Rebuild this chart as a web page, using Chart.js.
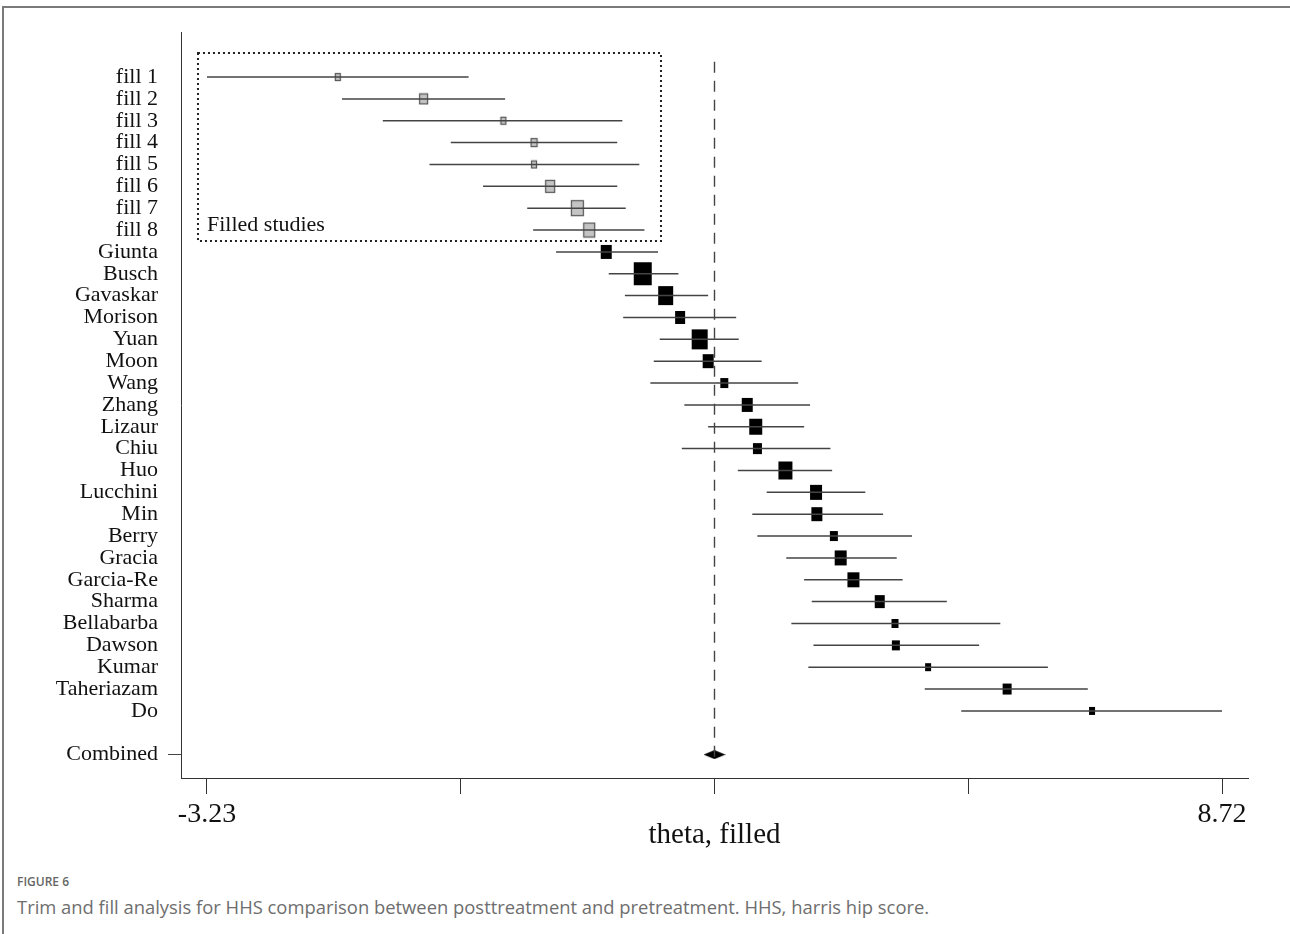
<!DOCTYPE html>
<html>
<head>
<meta charset="utf-8">
<script src="https://cdn.jsdelivr.net/npm/chart.js@4"></script>
<style>
  body { margin: 0; background: #fff; width: 1290px; height: 934px; position: relative; overflow: hidden; }
  #frameTop { position: absolute; left: 3px; top: 6px; width: 1287px; height: 2px; background: #7a7a7a; }
  #frameLeft { position: absolute; left: 2px; top: 6px; width: 2px; height: 928px; background: #7a7a7a; }
  #chartBox { position: absolute; left: 0; top: 0; }
  .figNo { position: absolute; left: 17px; top: 873px; font-family: "Open Sans", sans-serif; font-weight: 600; font-size: 12px; color: #666; }
  .caption { position: absolute; left: 17px; top: 894px; font-family: "Open Sans", sans-serif; font-size: 18.4px; color: #6e6e6e; }
</style>
</head>
<body>
<div id="chartBox"><canvas id="forest" width="1290" height="860"></canvas></div>
<div id="frameTop"></div>
<div id="frameLeft"></div>
<div class="figNo">FIGURE 6</div>
<div class="caption">Trim and fill analysis for HHS comparison between posttreatment and pretreatment. HHS, harris hip score.</div>

<script>
"use strict";

// imputed (filled) studies
const fillLabels = ["fill 1", "fill 2", "fill 3", "fill 4", "fill 5", "fill 6", "fill 7", "fill 8"];
const fillEst = [-1.69, -0.68, 0.26, 0.62, 0.62, 0.81, 1.13, 1.27];
const fillLo = [-3.23, -1.64, -1.16, -0.36, -0.61, 0.02, 0.54, 0.61];
const fillHi = [-0.15, 0.28, 1.66, 1.60, 1.86, 1.60, 1.70, 1.92];
const fillWeight = [2.3, 5.1, 2.3, 3.1, 2.3, 6.3, 10.6, 9.0];

// observed studies
const studyLabels = ["Giunta", "Busch", "Gavaskar", "Morison", "Yuan", "Moon", "Wang", "Zhang", "Lizaur", "Chiu", "Huo",
  "Lucchini", "Min", "Berry", "Gracia", "Garcia-Re", "Sharma", "Bellabarba", "Dawson", "Kumar", "Taheriazam", "Do"];
const studyEst = [1.47, 1.90, 2.17, 2.34, 2.57, 2.67, 2.86, 3.13, 3.23, 3.25, 3.58,
  3.94, 3.95, 4.15, 4.23, 4.38, 4.69, 4.87, 4.88, 5.26, 6.19, 7.19];
const studyLo = [0.88, 1.50, 1.69, 1.67, 2.10, 2.03, 1.99, 2.39, 2.67, 2.36, 3.02,
  3.36, 3.19, 3.25, 3.59, 3.80, 3.89, 3.65, 3.91, 3.85, 5.22, 5.65];
const studyHi = [2.08, 2.32, 2.67, 3.00, 3.03, 3.30, 3.73, 3.87, 3.80, 4.11, 4.13,
  4.52, 4.73, 5.07, 4.89, 4.96, 5.48, 6.11, 5.86, 6.67, 7.14, 8.72];
const studyWeight = [7.6, 20.3, 14.1, 6.3, 16.0, 7.6, 4.0, 7.6, 10.6, 5.1, 12.3,
  9.0, 7.6, 4.0, 9.0, 9.0, 6.3, 3.1, 4.0, 2.3, 5.1, 2.3];

// pooled estimate
const combinedLabel = "Combined";
const combinedEst = 2.745;
const combinedLo = 2.615;
const combinedHi = 2.875;

// x axis
const xMin = -3.23;
const xMax = 8.72;
const xTitle = "theta, filled";

const rowLabels = fillLabels.concat(studyLabels);
const combinedRow = rowLabels.length + 1;

const serif = "'Liberation Serif', 'Times New Roman', serif";

// box marker drawn on a small canvas, size from the weight
function boxMarker(weight, fill, stroke) {
	const w = Math.round(4 * Math.sqrt(weight));
	const h = Math.round(w * 1.25);
	const c = document.createElement("canvas");
	c.width = w + 2;
	c.height = h + 2;
	const g = c.getContext("2d");
	g.fillStyle = fill;
	g.fillRect(1, 1, w, h);
	if (stroke) {
		g.strokeStyle = stroke;
		g.lineWidth = 1.2;
		g.strokeRect(1.5, 1.5, w - 1, h - 1);
	}
	return c;
}

function diamondMarker(w, h) {
	const c = document.createElement("canvas");
	c.width = w;
	c.height = h;
	const g = c.getContext("2d");
	g.fillStyle = "#000";
	g.beginPath();
	g.moveTo(0, h / 2);
	g.lineTo(w / 2, 0);
	g.lineTo(w, h / 2);
	g.lineTo(w / 2, h);
	g.closePath();
	g.fill();
	return c;
}

// confidence interval segments, separated by gaps
const ciPoints = [];
rowLabels.forEach(function (label, i) {
	const lo = i < fillLo.length ? fillLo[i] : studyLo[i - fillLo.length];
	const hi = i < fillHi.length ? fillHi[i] : studyHi[i - fillHi.length];
	ciPoints.push({ x: lo, y: i }, { x: hi, y: i }, { x: null, y: null });
});

const fillPoints = fillEst.map((v, i) => ({ x: v, y: i }));
const studyPoints = studyEst.map((v, i) => ({ x: v, y: i + fillEst.length }));
const fillStyles = fillWeight.map(w => boxMarker(w, "#c4c4c4", "#555"));
const studyStyles = studyWeight.map(w => boxMarker(w, "#000", null));

// dotted frame around the filled studies
const filledBoxPlugin = {
	id: "filledBox",
	beforeDatasetsDraw(chart) {
		const x = chart.scales.x;
		const y = chart.scales.y;
		const ctx = chart.ctx;
		const left = x.getPixelForValue(-3.336);
		const right = x.getPixelForValue(2.115);
		const top = y.getPixelForValue(-1.1);
		const bottom = y.getPixelForValue(7.5);
		ctx.save();
		ctx.strokeStyle = "#222";
		ctx.lineWidth = 2;
		ctx.setLineDash([2, 3]);
		ctx.strokeRect(left, top, right - left, bottom - top);
		ctx.setLineDash([]);
		ctx.fillStyle = "#111";
		ctx.font = "22px " + serif;
		ctx.textAlign = "left";
		ctx.textBaseline = "alphabetic";
		ctx.fillText("Filled studies", x.getPixelForValue(xMin), y.getPixelForValue(7.05));
		ctx.restore();
	}
};

const xTicks = [0, 1, 2, 3, 4].map(k => xMin + k * (xMax - xMin) / 4);
const pad = (xMax - xMin) * 0.0256;

new Chart(document.getElementById("forest"), {
	type: "scatter",
	data: {
		datasets: [
			{
				data: [{ x: combinedEst, y: -0.7 }, { x: combinedEst, y: 31.35 }],
				showLine: true,
				borderColor: "#444",
				borderWidth: 1.4,
				borderDash: [11, 8],
				pointRadius: 0
			},
			{
				data: ciPoints,
				showLine: true,
				spanGaps: false,
				borderColor: "#444",
				borderWidth: 1.5,
				pointRadius: 0
			},
			{
				data: fillPoints,
				pointStyle: fillStyles
			},
			{
				data: studyPoints,
				pointStyle: studyStyles
			},
			{
				data: [{ x: combinedEst, y: combinedRow }],
				pointStyle: diamondMarker(Math.round((combinedHi - combinedLo) * 84.94), 9)
			}
		]
	},
	options: {
		responsive: false,
		animation: false,
		layout: { padding: { left: 0, right: 42, top: 32, bottom: 0 } },
		plugins: {
			legend: { display: false },
			tooltip: { enabled: false }
		},
		scales: {
			x: {
				type: "linear",
				min: xMin - pad,
				max: xMax + pad,
				afterBuildTicks: s => { s.ticks = xTicks.map(v => ({ value: v })); },
				afterFit: s => { s.height = 82; },
				border: { color: "#333", width: 1 },
				grid: { drawOnChartArea: false, drawTicks: true, tickLength: 16, color: "#333" },
				ticks: {
					autoSkip: false,
					maxRotation: 0,
					padding: 4,
					color: "#111",
					font: { family: serif, size: 28 },
					callback: (v, i) => (i === 0 || i === xTicks.length - 1) ? v.toFixed(2) : ""
				},
				title: {
					display: true,
					text: xTitle,
					color: "#111",
					font: { family: serif, size: 29 },
					padding: { top: 0, bottom: 7 }
				}
			},
			y: {
				type: "linear",
				reverse: true,
				min: -2.06,
				max: 32.07,
				afterBuildTicks: s => {
					s.ticks = rowLabels.map((l, i) => ({ value: i })).concat([{ value: combinedRow }]);
				},
				afterFit: s => { s.width = 181; },
				border: { color: "#333", width: 1 },
				grid: {
					drawOnChartArea: false,
					drawTicks: true,
					tickLength: 13,
					color: c => (c.tick && c.tick.value === combinedRow) ? "#444" : "rgba(0,0,0,0)"
				},
				ticks: {
					autoSkip: false,
					padding: 10,
					color: "#111",
					font: { family: serif, size: 22 },
					callback: v => v === combinedRow ? combinedLabel : (rowLabels[v] || "")
				}
			}
		}
	},
	plugins: [filledBoxPlugin]
});
</script>
</body>
</html>
